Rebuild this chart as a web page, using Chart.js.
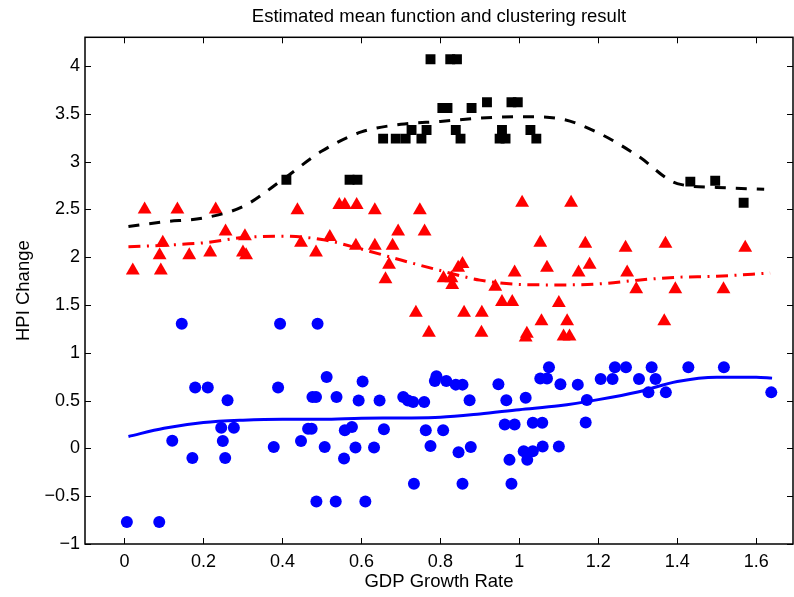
<!DOCTYPE html>
<html>
<head>
<meta charset="utf-8">
<script src="https://cdn.jsdelivr.net/npm/chart.js@4.4.0/dist/chart.umd.min.js"></script>
<style>
  body { margin: 0; background: #fff; }
  #wrap { width: 794px; height: 597px; }
</style>
</head>
<body>
<div id="wrap"><canvas id="clusterChart" width="794" height="597"></canvas></div>
<script>
// cluster 1 (black squares)
const squareX = [0.41, 0.57, 0.59, 0.655, 0.687, 0.712, 0.727, 0.752, 0.765, 0.775, 0.805, 0.818, 0.825, 0.839,
    0.842, 0.851, 0.879, 0.918, 0.95, 0.956, 0.965, 0.98, 0.996, 1.028, 1.043, 1.433, 1.496, 1.568];
const squareY = [2.81, 2.81, 2.81, 3.24, 3.24, 3.24, 3.33, 3.24, 3.33, 4.07, 3.56, 3.56, 4.07, 3.33,
    4.07, 3.24, 3.56, 3.62, 3.24, 3.33, 3.24, 3.62, 3.62, 3.33, 3.24, 2.79, 2.80, 2.57];

// cluster 2 (red triangles)
const triangleX = [0.021, 0.051, 0.089, 0.097, 0.092, 0.134, 0.164, 0.217, 0.231, 0.256, 0.30, 0.308, 0.305,
    0.438, 0.447, 0.485, 0.52, 0.544, 0.558, 0.588, 0.586, 0.634, 0.634, 0.661, 0.67, 0.679, 0.693, 0.748,
    0.76, 1.007, 1.053, 1.07, 0.988, 0.856, 0.845, 0.808, 0.828, 0.83, 0.939, 0.956, 0.982, 0.738, 0.86,
    0.905, 0.771, 0.904, 1.056, 1.019, 1.016, 1.10, 1.131, 1.167, 1.269, 1.37, 1.572, 1.15, 1.178, 1.273,
    1.296, 1.395, 1.517, 1.121, 1.367, 1.112, 1.127];
const triangleY = [1.86, 2.50, 2.02, 2.15, 1.86, 2.50, 2.02, 2.05, 2.50, 2.27, 2.05, 2.02, 2.22,
    2.49, 2.15, 2.05, 2.21, 2.545, 2.545, 2.545, 2.12, 2.49, 2.12, 1.77, 1.92, 2.12, 2.27, 2.49,
    2.27, 2.57, 2.15, 1.89, 1.84, 1.93, 1.89, 1.78, 1.78, 1.71, 1.69, 1.53, 1.53, 1.42, 1.42,
    1.42, 1.21, 1.21, 1.33, 1.20, 1.16, 1.52, 2.57, 2.14, 2.10, 2.14, 2.10, 1.84, 1.92, 1.84,
    1.665, 1.665, 1.665, 1.33, 1.33, 1.17, 1.17];

// cluster 3 (blue circles)
const circleX = [0.006, 0.088, 0.121, 0.145, 0.172, 0.179, 0.211, 0.245, 0.249, 0.255, 0.261, 0.277, 0.378,
    0.389, 0.394, 0.447, 0.465, 0.474, 0.476, 0.485, 0.489, 0.486, 0.507, 0.512, 0.535, 0.537, 0.556, 0.558,
    0.576, 0.585, 0.593, 0.603, 0.61, 0.632, 0.646, 0.657, 0.706, 0.718, 0.731, 0.759, 0.733, 0.763, 0.775,
    0.786, 0.79, 0.807, 0.815, 0.839, 0.846, 0.856, 0.856, 0.874, 0.877, 0.947, 0.963, 0.967, 0.975, 0.98,
    0.988, 1.011, 1.016, 1.02, 1.034, 1.034, 1.053, 1.058, 1.059, 1.07, 1.075, 1.10, 1.104, 1.148, 1.168,
    1.171, 1.206, 1.236, 1.242, 1.27, 1.303, 1.327, 1.335, 1.345, 1.371, 1.428, 1.518, 1.638];
const circleY = [-0.77, -0.77, 0.08, 1.305, -0.10, 0.636, 0.636, 0.217, 0.077, -0.10, 0.503, 0.217, 0.014,
    0.636, 1.305, 0.077, 0.206, 0.206, 0.537, 0.537, 1.305, -0.555, 0.014, 0.747, -0.555, 0.537, -0.105, 0.19,
    0.223, 0.01, 0.50, 0.70, -0.555, 0.01, 0.50, 0.20, 0.537, 0.50, 0.485, 0.485, -0.37, 0.19, 0.024,
    0.705, 0.754, 0.19, 0.705, 0.667, -0.04, 0.667, -0.37, 0.503, 0.014, 0.67, 0.251, 0.503, -0.12, -0.37,
    0.251, -0.03, 0.53, -0.12, -0.03, 0.269, 0.73, 0.269, 0.021, 0.73, 0.85, 0.021, 0.67, 0.667, 0.272,
    0.505, 0.726, 0.726, 0.848, 0.848, 0.726, 0.586, 0.848, 0.726, 0.586, 0.848, 0.848, 0.586];

// estimated mean functions
const meanBlackX = [0.01, 0.1, 0.2, 0.3, 0.4, 0.5, 0.6, 0.7, 0.8, 0.9, 1.0, 1.1, 1.2, 1.3, 1.4, 1.5, 1.62];
const meanBlackY = [2.32, 2.37, 2.41, 2.53, 2.81, 3.11, 3.31, 3.39, 3.42, 3.455, 3.47, 3.45, 3.30, 3.06, 2.77, 2.73, 2.71];
const meanRedX = [0.01, 0.1, 0.2, 0.3, 0.4, 0.5, 0.6, 0.7, 0.8, 0.9, 1.0, 1.1, 1.2, 1.3, 1.4, 1.5, 1.635];
const meanRedY = [2.11, 2.125, 2.15, 2.205, 2.22, 2.185, 2.085, 1.97, 1.86, 1.76, 1.715, 1.71, 1.72, 1.76, 1.79, 1.80, 1.835];
const meanBlueX = [0.01, 0.1, 0.2, 0.3, 0.4, 0.5, 0.6, 0.7, 0.8, 0.9, 1.0, 1.1, 1.2, 1.3, 1.4, 1.5, 1.6, 1.64];
const meanBlueY = [0.125, 0.21, 0.27, 0.295, 0.305, 0.305, 0.315, 0.318, 0.325, 0.36, 0.405, 0.445, 0.51, 0.59, 0.70, 0.745, 0.745, 0.735];

const xTicks = [0, 0.2, 0.4, 0.6, 0.8, 1, 1.2, 1.4, 1.6];
const xTickLabels = ['0', '0.2', '0.4', '0.6', '0.8', '1', '1.2', '1.4', '1.6'];
const yTicks = [-1, -0.5, 0, 0.5, 1, 1.5, 2, 2.5, 3, 3.5, 4];
const yTickLabels = ['\u22121', '\u22120.5', '0', '0.5', '1', '1.5', '2', '2.5', '3', '3.5', '4'];

function toPoints(xs, ys) {
    return xs.map((x, i) => ({ x: x, y: ys[i] }));
}

// MATLAB style box with inward tick marks on all four sides
const boxAndTicks = {
    id: 'boxAndTicks',
    afterDatasetsDraw(chart) {
        const { ctx, chartArea: a, scales } = chart;
        const len = 6;
        ctx.save();
        ctx.strokeStyle = '#000';
        ctx.lineWidth = 1;
        ctx.beginPath();
        xTicks.forEach(v => {
            const px = Math.round(scales.x.getPixelForValue(v)) + 0.5;
            ctx.moveTo(px, a.bottom); ctx.lineTo(px, a.bottom - len);
            ctx.moveTo(px, a.top); ctx.lineTo(px, a.top + len);
        });
        yTicks.forEach(v => {
            const py = Math.round(scales.y.getPixelForValue(v)) + 0.5;
            ctx.moveTo(a.left, py); ctx.lineTo(a.left + len, py);
            ctx.moveTo(a.right, py); ctx.lineTo(a.right - len, py);
        });
        ctx.stroke();
        ctx.lineWidth = 1.5;
        ctx.strokeRect(a.left, a.top, a.right - a.left, a.bottom - a.top);
        ctx.restore();
    }
};

Chart.defaults.color = '#000';
Chart.defaults.font.family = '"Liberation Sans", Arial, Helvetica, sans-serif';

const ctx = document.getElementById('clusterChart').getContext('2d');
const clusterChart = new Chart(ctx, {
    type: 'scatter',
    data: {
        datasets: [
            {
                label: 'Mean 1',
                data: toPoints(meanBlackX, meanBlackY),
                showLine: true,
                borderColor: '#000',
                borderWidth: 3,
                borderDash: [11, 10],
                pointRadius: 0,
                cubicInterpolationMode: 'monotone'
            },
            {
                label: 'Mean 2',
                data: toPoints(meanRedX, meanRedY),
                showLine: true,
                borderColor: '#ff0000',
                borderWidth: 3,
                borderDash: [12, 6.5, 2, 6.5],
                pointRadius: 0,
                cubicInterpolationMode: 'monotone'
            },
            {
                label: 'Mean 3',
                data: toPoints(meanBlueX, meanBlueY),
                showLine: true,
                borderColor: '#0000ff',
                borderWidth: 3,
                pointRadius: 0,
                cubicInterpolationMode: 'monotone'
            },
            {
                label: 'Cluster 1',
                data: toPoints(squareX, squareY),
                pointStyle: 'rect',
                pointRadius: 7,
                pointBorderWidth: 0,
                backgroundColor: '#000',
                borderColor: '#000'
            },
            {
                label: 'Cluster 2',
                data: toPoints(triangleX, triangleY),
                pointStyle: 'triangle',
                pointRadius: 8,
                pointBorderWidth: 0,
                backgroundColor: '#ff0000',
                borderColor: '#ff0000'
            },
            {
                label: 'Cluster 3',
                data: toPoints(circleX, circleY),
                pointStyle: 'circle',
                pointRadius: 6,
                pointBorderWidth: 0,
                backgroundColor: '#0000ff',
                borderColor: '#0000ff'
            }
        ]
    },
    options: {
        responsive: false,
        animation: false,
        devicePixelRatio: 1,
        layout: { autoPadding: false, padding: { left: 0, right: 1, top: 0, bottom: 0 } },
        plugins: {
            legend: { display: false },
            tooltip: { enabled: false },
            title: {
                display: true,
                fullSize: false,
                text: 'Estimated mean function and clustering result',
                color: '#000',
                font: { size: 18.5, weight: 'normal' },
                padding: { top: 6, bottom: 9.1 }
            }
        },
        scales: {
            x: {
                min: -0.1,
                max: 1.693,
                grid: { display: false, drawTicks: false },
                border: { display: false },
                afterBuildTicks: scale => { scale.ticks = xTicks.map(v => ({ value: v })); },
                afterFit: scale => { scale.height = 53; },
                ticks: {
                    padding: 7,
                    font: { size: 18 },
                    callback: value => xTickLabels[xTicks.indexOf(value)]
                },
                title: {
                    display: true,
                    text: 'GDP Growth Rate',
                    font: { size: 18.5 },
                    padding: { top: 0, bottom: 4 }
                }
            },
            y: {
                min: -1,
                max: 4.3,
                grid: { display: false, drawTicks: false },
                border: { display: false },
                afterBuildTicks: scale => { scale.ticks = yTicks.map(v => ({ value: v })); },
                afterFit: scale => { scale.width = 85; },
                ticks: {
                    padding: 5,
                    font: { size: 18 },
                    callback: value => yTickLabels[yTicks.indexOf(value)]
                },
                title: {
                    display: true,
                    text: 'HPI Change',
                    font: { size: 18.5 },
                    padding: { top: 13, bottom: 0 }
                }
            }
        }
    },
    plugins: [boxAndTicks]
});
</script>
</body>
</html>
